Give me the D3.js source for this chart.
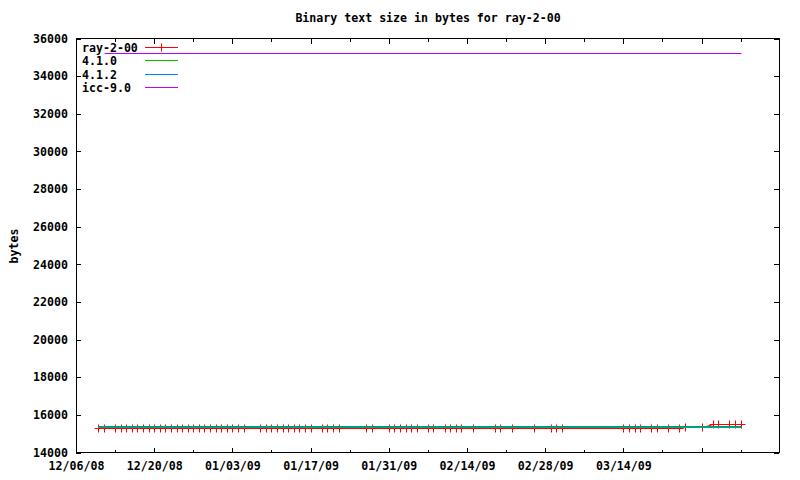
<!DOCTYPE html>
<html>
<head>
<meta charset="utf-8">
<script src="https://cdn.jsdelivr.net/npm/d3@7"></script>
<style>
  html, body { margin: 0; padding: 0; background: #fff; }
  svg { display: block; }
  text { font-family: "DejaVu Sans Mono", monospace; font-weight: bold; font-size: 11.6px; fill: #000; }
</style>
</head>
<body>
<svg id="chart" width="800" height="480"></svg>
<script>
const chartTitle = "Binary text size in bytes for ray-2-00";
const yAxisLabel = "bytes";
const seriesNames = ["ray-2-00", "4.1.0", "4.1.2", "icc-9.0"];
const seriesColors = ["#ff0000", "#00c000", "#0080ff", "#c000ff"];

const rayDates = [
  "2008-12-10","2008-12-11","2008-12-13","2008-12-14","2008-12-15","2008-12-16","2008-12-17","2008-12-18",
  "2008-12-19","2008-12-20","2008-12-21","2008-12-22","2008-12-23","2008-12-24","2008-12-25","2008-12-26",
  "2008-12-27","2008-12-28","2008-12-29","2008-12-30","2008-12-31",
  "2009-01-01","2009-01-02","2009-01-03","2009-01-04","2009-01-05","2009-01-08","2009-01-09","2009-01-10",
  "2009-01-11","2009-01-12","2009-01-13","2009-01-14","2009-01-15","2009-01-16","2009-01-17","2009-01-19",
  "2009-01-20","2009-01-21","2009-01-22","2009-01-27","2009-01-28","2009-01-31",
  "2009-02-01","2009-02-02","2009-02-03","2009-02-04","2009-02-05","2009-02-07","2009-02-08","2009-02-10",
  "2009-02-11","2009-02-12","2009-02-13","2009-02-15","2009-02-19","2009-02-20","2009-02-22","2009-02-26",
  "2009-03-01","2009-03-02","2009-03-03","2009-03-14","2009-03-15","2009-03-16","2009-03-17","2009-03-19",
  "2009-03-20","2009-03-22","2009-03-24","2009-03-25","2009-03-28","2009-03-30","2009-03-31",
  "2009-04-02","2009-04-03","2009-04-04"
];
const rayValues = [
  15290,15290,15290,15290,15290,15290,15290,15290,
  15290,15290,15290,15290,15290,15290,15290,15290,
  15290,15290,15290,15290,15290,
  15290,15290,15290,15290,15290,15290,15290,15290,
  15290,15290,15290,15290,15290,15290,15290,15290,
  15290,15290,15290,15290,15290,15290,
  15290,15290,15290,15290,15290,15290,15290,15290,
  15290,15290,15290,15290,15290,15290,15290,15290,
  15290,15290,15290,15290,15290,15290,15290,15290,
  15290,15290,15290,15345,15345,15500,15500,
  15500,15500,15500
];
const gcc410Dates = ["2008-12-10", "2009-04-04"];
const gcc410Values = [15340, 15340];
const gcc412Dates = ["2008-12-10", "2009-04-04"];
const gcc412Values = [15395, 15395];
const iccDates = ["2008-12-11", "2009-04-04"];
const iccValues = [35250, 35250];

const yTicks = [14000,16000,18000,20000,22000,24000,26000,28000,30000,32000,34000,36000];
const xMajorTickDates = ["2008-12-06","2008-12-20","2009-01-03","2009-01-17","2009-01-31","2009-02-14","2009-02-28","2009-03-14","2009-03-28"];
const xMajorTickLabels = ["12/06/08","12/20/08","01/03/09","01/17/09","01/31/09","02/14/09","02/28/09","03/14/09",""];
const xMinorTickDates = ["2008-12-13","2008-12-27","2009-01-10","2009-01-24","2009-02-07","2009-02-21","2009-03-07","2009-03-21","2009-04-04"];
const xDomain = ["2008-12-06T00:00", "2009-04-10T20:50"];
const yDomain = [14000, 36000];

const parse = d3.utcParse("%Y-%m-%d");
const parseT = d3.utcParse("%Y-%m-%dT%H:%M");

const L = 76, R = 779, T = 38.5, B = 452.5;
const svg = d3.select("#chart");
svg.append("rect").attr("width", 800).attr("height", 480).attr("fill", "#fff");

const x = d3.scaleUtc().domain(xDomain.map(parseT)).range([L, R]);
const y = d3.scaleLinear().domain(yDomain).range([B, T]);
const px = v => Math.round(v) + 0.5;

// Title
svg.append("text").attr("x", 428).attr("y", 22).attr("text-anchor", "middle").text(chartTitle);
// Y label
svg.append("text").attr("transform", "translate(18,246) rotate(-90)").attr("text-anchor", "middle").text(yAxisLabel);

function styleAxis(g) {
  g.select(".domain").remove();
  g.selectAll(".tick line").attr("stroke", "#000").attr("shape-rendering", "crispEdges");
  g.selectAll("text").attr("font-family", null).attr("font-size", null).style("font-family", null);
}

const majorDates = xMajorTickDates.map(parse);
const minorDates = xMinorTickDates.map(parse);

svg.append("g").attr("transform", `translate(0,${B})`)
  .call(d3.axisBottom(x).tickValues(majorDates).tickFormat((d, i) => xMajorTickLabels[i]).tickSizeInner(-5).tickSizeOuter(0).tickPadding(9))
  .call(styleAxis);
svg.append("g").attr("transform", `translate(0,${B})`)
  .call(d3.axisBottom(x).tickValues(minorDates).tickFormat("").tickSizeInner(-3).tickSizeOuter(0))
  .call(styleAxis);
svg.append("g").attr("transform", `translate(0,${T})`)
  .call(d3.axisTop(x).tickValues(majorDates).tickFormat("").tickSizeInner(-5).tickSizeOuter(0))
  .call(styleAxis);
svg.append("g").attr("transform", `translate(0,${T})`)
  .call(d3.axisTop(x).tickValues(minorDates).tickFormat("").tickSizeInner(-3).tickSizeOuter(0))
  .call(styleAxis);
svg.append("g").attr("transform", `translate(${L},0)`)
  .call(d3.axisLeft(y).tickValues(yTicks).tickFormat(d3.format("d")).tickSizeInner(-5).tickSizeOuter(0).tickPadding(8))
  .call(styleAxis);
svg.append("g").attr("transform", `translate(${R},0)`)
  .call(d3.axisRight(y).tickValues(yTicks).tickFormat("").tickSizeInner(-5).tickSizeOuter(0))
  .call(styleAxis);

// Border
svg.append("rect").attr("x", L + 0.5).attr("y", T).attr("width", R - L).attr("height", B - T)
  .attr("fill", "none").attr("stroke", "#000").attr("stroke-width", 1).attr("shape-rendering", "crispEdges");

// Series
const line = d3.line().x(d => px(x(d[0]))).y(d => px(y(d[1])));
function series(dates, values) { return dates.map((d, i) => [parse(d), values[i]]); }

const rayData = series(rayDates, rayValues);
svg.append("path").datum(rayData).attr("d", line).attr("fill", "none").attr("stroke", seriesColors[0]).attr("stroke-width", 1);
const plus = (cx, cy, s) => `M${cx - s},${cy}H${cx + s}M${cx},${cy - s}V${cy + s}`;
svg.append("g").selectAll("path").data(rayData).join("path")
  .attr("d", d => plus(px(x(d[0])), px(y(d[1])), 4))
  .attr("stroke", seriesColors[0]).attr("stroke-width", 1).attr("fill", "none");

[[gcc410Dates, gcc410Values, 1], [gcc412Dates, gcc412Values, 2], [iccDates, iccValues, 3]].forEach(([ds, vs, k]) => {
  svg.append("path").datum(series(ds, vs)).attr("d", line).attr("fill", "none")
    .attr("stroke", seriesColors[k]).attr("stroke-width", 1);
});

// Legend
const legendY = [47.5, 60.5, 74.5, 87.5];
seriesNames.forEach((name, i) => {
  const g = svg.append("g");
  g.append("text").attr("x", 82).attr("y", legendY[i] + 4.5).text(name);
  g.append("path").attr("d", `M145,${legendY[i]}H178`).attr("stroke", seriesColors[i]).attr("stroke-width", 1);
  if (i === 0) {
    g.append("path").attr("d", plus(161.5, legendY[i], 4)).attr("stroke", seriesColors[i]).attr("stroke-width", 1);
  }
});
</script>
</body>
</html>
